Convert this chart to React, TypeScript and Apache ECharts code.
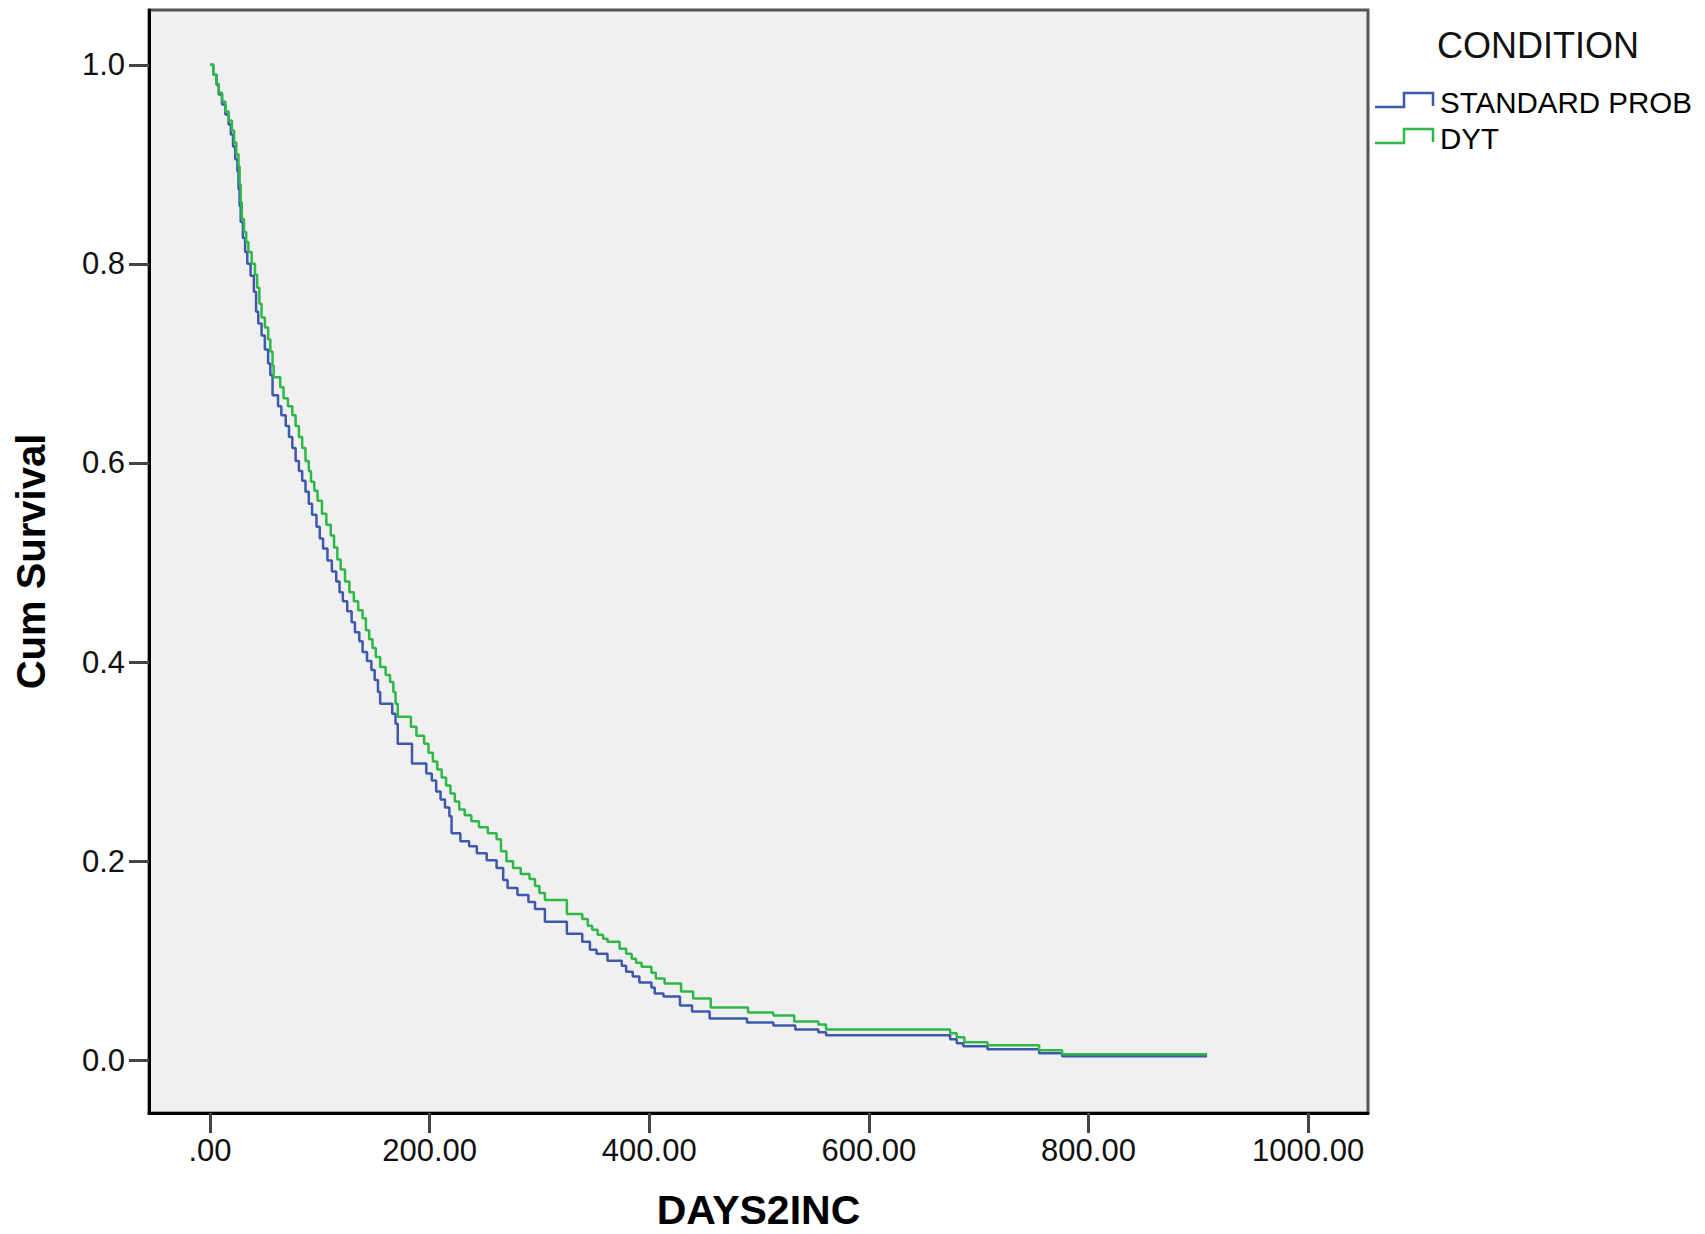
import { useEffect, useRef } from 'react';
import * as echarts from 'echarts';

const FONT = '"Liberation Sans", Arial, sans-serif';

const seriesNames = ['STANDARD PROB', 'DYT'];
const seriesColors = ['#3E58AC', '#2EB848'];

const xTicks = [0, 200, 400, 600, 800, 1000];
const yTicks = [0, 0.2, 0.4, 0.6, 0.8, 1.0];

const standardDays = [0, 3, 6, 8, 11, 14, 17, 19, 21, 23, 25, 26, 27, 28, 30, 32, 34, 37, 40, 42, 44, 47, 50, 53, 55, 57, 62, 65, 69, 72, 75, 78, 81, 84, 87, 90, 93, 97, 100, 103, 107, 111, 115, 118, 121, 125, 129, 132, 136, 139, 143, 147, 150, 153, 155, 166, 169, 171, 184, 197, 202, 206, 210, 214, 218, 220, 228, 236, 243, 252, 261, 267, 271, 280, 290, 296, 305, 325, 339, 346, 352, 362, 375, 379, 385, 391, 402, 405, 413, 428, 439, 455, 489, 513, 533, 554, 561, 674, 680, 686, 708, 755, 776, 908];
const standardSurv = [1.0, 0.99, 0.98, 0.97, 0.96, 0.95, 0.94, 0.93, 0.918, 0.905, 0.893, 0.875, 0.858, 0.842, 0.826, 0.812, 0.8, 0.788, 0.772, 0.752, 0.74, 0.728, 0.714, 0.7, 0.688, 0.668, 0.657, 0.648, 0.637, 0.626, 0.615, 0.602, 0.592, 0.582, 0.571, 0.559, 0.548, 0.536, 0.524, 0.514, 0.502, 0.491, 0.481, 0.47, 0.461, 0.451, 0.44, 0.43, 0.421, 0.41, 0.401, 0.392, 0.382, 0.37, 0.358, 0.348, 0.338, 0.318, 0.298, 0.288, 0.281, 0.27, 0.262, 0.254, 0.245, 0.228, 0.22, 0.215, 0.208, 0.201, 0.193, 0.181, 0.173, 0.166, 0.159, 0.152, 0.139, 0.127, 0.119, 0.111, 0.107, 0.1, 0.095, 0.089, 0.084, 0.078, 0.073, 0.067, 0.064, 0.055, 0.049, 0.042, 0.038, 0.035, 0.031, 0.028, 0.025, 0.021, 0.017, 0.014, 0.011, 0.007, 0.004, 0.004];

const dytDays = [0, 3, 6, 8, 11, 14, 17, 20, 22, 24, 26, 27, 28, 29, 31, 33, 35, 38, 41, 43, 45, 47, 50, 53, 55, 57, 58, 64, 67, 71, 75, 78, 81, 84, 87, 90, 92, 95, 98, 102, 106, 110, 113, 116, 119, 123, 127, 131, 135, 139, 142, 145, 148, 151, 155, 160, 164, 167, 169, 171, 183, 188, 195, 199, 203, 207, 211, 215, 219, 223, 227, 232, 238, 245, 253, 261, 265, 270, 276, 283, 291, 296, 300, 305, 325, 339, 344, 348, 353, 358, 362, 373, 379, 384, 388, 393, 402, 406, 414, 429, 440, 456, 490, 513, 532, 554, 561, 674, 680, 687, 708, 755, 776, 908];
const dytSurv = [1.0, 0.99, 0.981, 0.972, 0.963, 0.953, 0.944, 0.934, 0.922, 0.91, 0.898, 0.88, 0.862, 0.845, 0.832, 0.822, 0.812, 0.8, 0.789, 0.776, 0.76, 0.746, 0.736, 0.724, 0.712, 0.698, 0.686, 0.676, 0.665, 0.657, 0.648, 0.637, 0.626, 0.615, 0.602, 0.592, 0.581, 0.572, 0.562, 0.549, 0.538, 0.527, 0.515, 0.503, 0.493, 0.481, 0.47, 0.461, 0.452, 0.444, 0.432, 0.423, 0.414, 0.405, 0.395, 0.387, 0.38, 0.37, 0.358, 0.345, 0.335, 0.326, 0.318, 0.309, 0.3, 0.292, 0.284, 0.276, 0.268, 0.26, 0.252, 0.246, 0.24, 0.234, 0.228, 0.222, 0.21, 0.2, 0.193, 0.187, 0.182, 0.175, 0.168, 0.161, 0.147, 0.142, 0.135, 0.131, 0.126, 0.122, 0.119, 0.112, 0.107, 0.102, 0.098, 0.094, 0.088, 0.082, 0.077, 0.069, 0.062, 0.053, 0.048, 0.045, 0.039, 0.036, 0.031, 0.027, 0.023, 0.018, 0.015, 0.01, 0.006, 0.006];

const zip = (xs: number[], ys: number[]) => xs.map((x, i) => [x, ys[i]]);

export default function App() {
  const ref = useRef<HTMLDivElement>(null);
  useEffect(() => {
    if (!ref.current) return;
    const chart = echarts.init(ref.current, undefined, { renderer: 'svg' });
    const gridLeft = 149;
    const gridTop = 10;
    const gridW = 1219;
    const gridH = 1103;
    const option: any = {
      animation: false,
      backgroundColor: '#ffffff',
      grid: {
        left: gridLeft,
        top: gridTop,
        width: gridW,
        height: gridH,
        show: true,
        backgroundColor: '#f0f0f0',
        borderColor: '#555555',
        borderWidth: 3,
      },
      xAxis: {
        type: 'value',
        min: -55.5,
        max: 1054.5,
        axisLine: { show: true, onZero: false, lineStyle: { color: '#000', width: 3 } },
        axisTick: { show: true, length: 20, customValues: xTicks, lineStyle: { color: '#444', width: 3 } },
        axisLabel: {
          customValues: xTicks,
          formatter: (v: number) => (v === 0 ? '.00' : v.toFixed(2)),
          fontSize: 31,
          fontFamily: FONT,
          color: '#111',
          margin: 22,
        },
        splitLine: { show: false },
      },
      yAxis: {
        type: 'value',
        min: -0.053,
        max: 1.055,
        axisLine: { show: true, onZero: false, lineStyle: { color: '#000', width: 3 } },
        axisTick: { show: true, length: 20, customValues: yTicks, lineStyle: { color: '#444', width: 3 } },
        axisLabel: {
          customValues: yTicks,
          formatter: (v: number) => v.toFixed(1),
          fontSize: 31,
          fontFamily: FONT,
          color: '#111',
          margin: 24,
        },
        splitLine: { show: false },
      },
      series: [
        {
          type: 'line',
          name: seriesNames[0],
          step: 'end',
          symbol: 'none',
          showSymbol: false,
          data: zip(standardDays, standardSurv),
          lineStyle: { color: seriesColors[0], width: 2.5 },
          itemStyle: { color: seriesColors[0] },
          z: 2,
        },
        {
          type: 'line',
          name: seriesNames[1],
          step: 'end',
          symbol: 'none',
          showSymbol: false,
          data: zip(dytDays, dytSurv),
          lineStyle: { color: seriesColors[1], width: 2.5 },
          itemStyle: { color: seriesColors[1] },
          z: 3,
        },
      ],
      graphic: [
        {
          type: 'text',
          x: 31,
          y: gridTop + gridH / 2,
          rotation: Math.PI / 2,
          style: {
            text: 'Cum Survival',
            font: `bold 40px ${FONT}`,
            fill: '#000',
            textAlign: 'center',
            textVerticalAlign: 'middle',
          },
        },
        {
          type: 'text',
          x: gridLeft + gridW / 2,
          y: 1210,
          style: {
            text: 'DAYS2INC',
            font: `bold 41px ${FONT}`,
            lineHeight: 42,
            fill: '#000',
            textAlign: 'center',
            textVerticalAlign: 'middle',
          },
        },
        {
          type: 'text',
          x: 1437,
          y: 45,
          style: {
            text: 'CONDITION',
            font: `36px ${FONT}`,
            fill: '#111',
            textAlign: 'left',
            textVerticalAlign: 'middle',
          },
        },
        {
          type: 'polyline',
          shape: { points: [[1375, 107], [1404, 107], [1404, 93], [1433, 93], [1433, 106]] },
          style: { stroke: seriesColors[0], lineWidth: 2.5, fill: 'none' },
        },
        {
          type: 'text',
          x: 1440,
          y: 102,
          style: {
            text: seriesNames[0],
            font: `29.5px ${FONT}`,
            fill: '#000',
            textAlign: 'left',
            textVerticalAlign: 'middle',
          },
        },
        {
          type: 'polyline',
          shape: { points: [[1375, 143], [1404, 143], [1404, 129], [1433, 129], [1433, 142]] },
          style: { stroke: seriesColors[1], lineWidth: 2.5, fill: 'none' },
        },
        {
          type: 'text',
          x: 1440,
          y: 138,
          style: {
            text: seriesNames[1],
            font: `29.5px ${FONT}`,
            fill: '#000',
            textAlign: 'left',
            textVerticalAlign: 'middle',
          },
        },
      ],
    };
    chart.setOption(option);
    return () => chart.dispose();
  }, []);
  return (
    <div
      ref={ref}
      style={{ position: 'absolute', left: 0, top: 0, width: 1705, height: 1234, background: '#fff' }}
    />
  );
}
